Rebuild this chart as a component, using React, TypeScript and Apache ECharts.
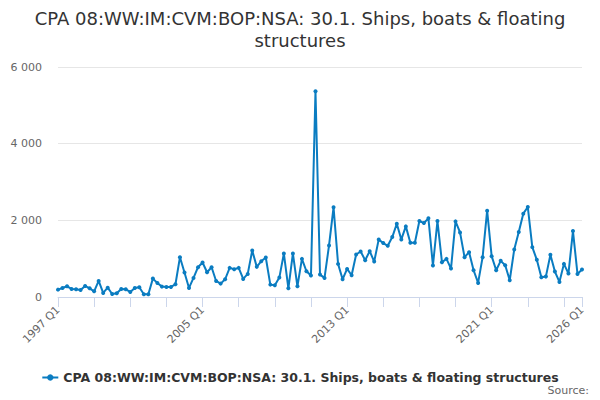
import React, { useEffect, useRef } from "react";
import * as echarts from "echarts";

const START_YEAR = 1997;
const QUARTER_COUNT = 117;
const categories: string[] = [];
for (let i = 0; i < QUARTER_COUNT; i++) {
  categories.push(`${START_YEAR + Math.floor(i / 4)} Q${(i % 4) + 1}`);
}

const seriesName = "CPA 08:WW:IM:CVM:BOP:NSA: 30.1. Ships, boats & floating structures";
const titleText = "CPA 08:WW:IM:CVM:BOP:NSA: 30.1. Ships, boats & floating\nstructures";

const values1997to2011 = [
  192, 236, 280, 210, 200, 183, 288, 227, 148, 419, 105, 244, 79, 96, 210, 200,
  131, 236, 253, 70, 70, 480, 367, 271, 262, 262, 332, 1039, 637, 236, 498, 777,
  899, 646, 777, 419, 349, 463, 760, 725, 760, 471, 602, 1213, 786, 934, 1030, 323,
  306, 506, 1135, 227, 1135, 280, 995, 672, 559,
];
const values2011to2026 = [
  5369, 585, 498, 1344, 2340, 864, 463, 733, 567, 1109, 1187, 960, 1196, 925, 1502, 1406,
  1336, 1563, 1912, 1502, 1842, 1414, 1414, 1982, 1929, 2052, 821, 1982, 908, 995, 742, 1973,
  1685, 1039, 1170, 698, 367, 1039, 2252, 1065, 698, 943, 829, 437, 1240, 1694, 2174, 2348,
  1301, 969, 515, 532, 1100, 663, 393, 864, 611, 1720, 602, 716,
];
const values = [...values1997to2011, ...values2011to2026];

const yTicks = { min: 0, max: 6000, interval: 2000 };
const labelIndexes = [0, 32, 64, 96, 116];

const FONT = "DejaVu Sans";

export default function App() {
  const ref = useRef<HTMLDivElement>(null);
  useEffect(() => {
    if (!ref.current) return;
    const chart = echarts.init(ref.current, undefined, { renderer: "svg" });
    chart.setOption({
      animation: false,
      backgroundColor: "#ffffff",
      title: {
        text: titleText,
        left: 300,
        top: 7,
        padding: 0,
        textAlign: "center",
        textStyle: {
          fontFamily: FONT,
          fontSize: 18,
          fontWeight: "normal",
          color: "#333333",
          lineHeight: 22,
        },
      },
      grid: { left: 58, right: 18, top: 67, bottom: 103, containLabel: false },
      xAxis: {
        type: "category",
        data: categories,
        boundaryGap: false,
        axisLine: { show: true, lineStyle: { color: "#ccd6eb", width: 1 } },
        axisTick: {
          show: true,
          length: 10,
          lineStyle: { color: "#ccd6eb" },
          interval: (i: number) => i % 8 === 0 || i === QUARTER_COUNT - 1,
        },
        axisLabel: {
          interval: (i: number) => labelIndexes.includes(i),
          rotate: 45,
          margin: 11,
          fontFamily: FONT,
          fontSize: 11,
          color: "#666666",
          showMaxLabel: true,
        },
        splitLine: { show: false },
      },
      yAxis: {
        type: "value",
        min: yTicks.min,
        max: yTicks.max,
        interval: yTicks.interval,
        axisLine: { show: false },
        axisTick: { show: false },
        splitLine: { lineStyle: { color: "#e6e6e6", width: 1 } },
        axisLabel: {
          margin: 16,
          fontFamily: FONT,
          fontSize: 11,
          color: "#666666",
          formatter: (v: number) => String(v).replace(/\B(?=(\d{3})+(?!\d))/g, " "),
        },
      },
      legend: {
        top: 366,
        left: "center",
        itemWidth: 16,
        itemHeight: 8,
        itemGap: 10,
        textStyle: { fontFamily: FONT, fontSize: 12.5, fontWeight: "bold", color: "#333333" },
        data: [seriesName],
      },
      series: [
        {
          name: seriesName,
          type: "line",
          data: values,
          showAllSymbol: true,
          symbol: "circle",
          symbolSize: 4,
          itemStyle: { color: "#0a7cc1" },
          lineStyle: { color: "#0a7cc1", width: 2 },
        },
      ],
      graphic: [
        {
          type: "text",
          right: 11,
          top: 385,
          style: { text: "Source:", fontFamily: FONT, fontSize: 11, fill: "#666666" },
        },
      ],
    });
    return () => chart.dispose();
  }, []);
  return (
    <div
      ref={ref}
      style={{ position: "fixed", left: 0, top: 0, width: 600, height: 400 }}
    />
  );
}
